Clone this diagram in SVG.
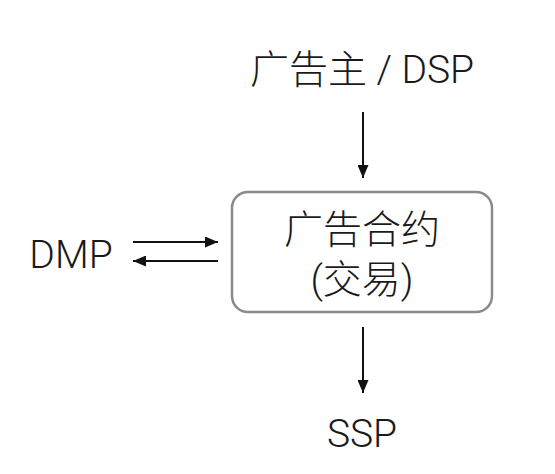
<svg xmlns="http://www.w3.org/2000/svg" width="555" height="474" viewBox="0 0 555 474">
<defs>
<marker id="ah" viewBox="0 0 13 11" refX="13" refY="5.5" markerWidth="13" markerHeight="11" markerUnits="userSpaceOnUse" orient="auto">
<path d="M0,0 L13,5.5 L0,11 z" fill="#111"/>
</marker>
<style>
.t{font-family:Roboto,"Noto Sans CJK SC",sans-serif;font-weight:300;font-size:39px;fill:#1a1a1a;text-anchor:middle}
.c{stroke:#111;stroke-width:2;fill:none;marker-end:url(#ah)}
</style>
</defs>
<rect width="555" height="474" fill="#fff"/>
<g id="advertiser"><text class="t" x="362" y="83">广告主 / DSP</text></g>
<g id="contract">
<rect x="232" y="192" width="260" height="120" rx="16" fill="#fff" stroke="#8a8a8a" stroke-width="2.5"/>
<text class="t" x="362" y="243">广告合约</text>
<text class="t" x="362" y="293">(交易)</text>
</g>
<g id="dmp"><text class="t" x="71" y="268">DMP</text></g>
<g id="ssp"><text class="t" x="362" y="447">SSP</text></g>
<g id="connectors">
<line class="c" x1="363" y1="112" x2="363" y2="178"/>
<line class="c" x1="363" y1="327" x2="363" y2="393"/>
<line class="c" x1="133" y1="242" x2="218" y2="242"/>
<line class="c" x1="218" y1="261" x2="133" y2="261"/>
</g>
</svg>
